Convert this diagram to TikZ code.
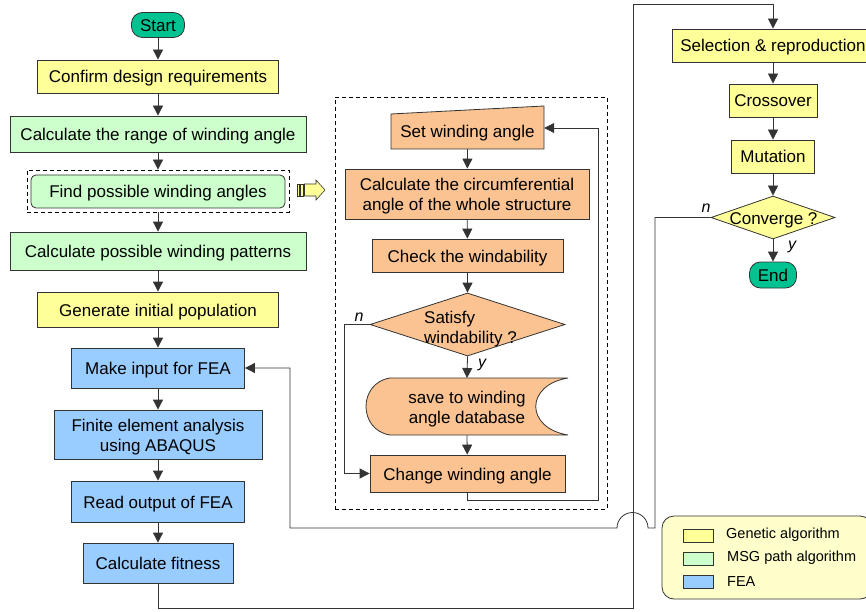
\documentclass[tikz,border=0pt]{standalone}
\usepackage{fontspec}
\setmainfont{Liberation Sans}
\usetikzlibrary{arrows.meta,shapes.geometric}
\definecolor{cy}{HTML}{FFFF99}
\definecolor{cg}{HTML}{CCFFCC}
\definecolor{cb}{HTML}{99CCFF}
\definecolor{co}{RGB}{250,195,145}
\definecolor{ct}{RGB}{0,195,145}
\definecolor{cl}{HTML}{FFFFCC}
\definecolor{cline}{HTML}{333333}
\begin{document}
\begin{tikzpicture}[x=1pt,y=-1pt,
  font=\fontsize{17}{20}\selectfont,
  txt/.style={text height=13pt, text depth=0pt},
  txttwo/.style={text height=33pt, text depth=0pt},
  box/.style={draw=cline, line width=0.8pt, inner sep=0pt, align=center, txt},
  ybox/.style={box, fill=cy},
  gbox/.style={box, fill=cg},
  bbox/.style={box, fill=cb},
  obox/.style={box, fill=co},
  term/.style={box, fill=ct, rounded corners=11pt},
  conn/.style={draw=cline, line width=0.8pt},
  arr/.style={conn, -{Triangle[length=10pt,width=10pt]}},
  lab/.style={font=\fontsize{16}{18}\selectfont\itshape, inner sep=0pt},
  dashbox/.style={draw=black, line width=0.8pt, dash pattern=on 4pt off 3pt},
  legtext/.style={font=\fontsize{14.5}{16}\selectfont, anchor=west, inner sep=0pt}
]
\useasboundingbox (0,0) rectangle (866,612);

% ---------- left column ----------
\node[term, minimum width=53, minimum height=25] (start) at (158,25) {Start};
\node[ybox, minimum width=241, minimum height=33] (confirm) at (158,76.5) {Confirm design requirements};
\node[gbox, minimum width=296, minimum height=36] (range) at (158,134) {Calculate the range of winding angle};
\node[dashbox, minimum width=262, minimum height=42, inner sep=0pt] (findwrap) at (158,191) {};
\node[gbox, rounded corners=5pt, minimum width=254, minimum height=33] (find) at (158,191.5) {Find possible winding angles};
\node[gbox, minimum width=296, minimum height=38] (patterns) at (158,251) {Calculate possible winding patterns};
\node[ybox, minimum width=241, minimum height=35] (init) at (158,309.5) {Generate initial population};
\node[bbox, minimum width=173, minimum height=40] (input) at (158,368) {Make input for FEA};
\node[bbox, txttwo, minimum width=208, minimum height=49] (fem) at (158,434.5) {Finite element analysis\\using ABAQUS};
\node[bbox, minimum width=173, minimum height=41] (read) at (158,501.5) {Read output of FEA};
\node[bbox, minimum width=150, minimum height=40] (fit) at (158,563) {Calculate fitness};

\draw[arr] (start) -- (confirm);
\draw[arr] (confirm) -- (range);
\draw[arr] (range) -- (findwrap.north);
\draw[arr] (findwrap.south) -- (patterns);
\draw[arr] (patterns) -- (init);
\draw[arr] (init) -- (input);
\draw[arr] (input) -- (fem);
\draw[arr] (fem) -- (read);
\draw[arr] (read) -- (fit);

% ---------- striped arrow ----------
\begin{scope}[draw=cline, line width=0.6pt]
  \filldraw[fill=cy] (297,184) rectangle (299,196);
  \filldraw[fill=cy] (300.5,184) rectangle (303,196);
  \filldraw[fill=cy] (304.5,184) -- (316,184) -- (316,180) -- (325,190) -- (316,200) -- (316,196) -- (304.5,196) -- cycle;
\end{scope}

% ---------- inner dashed region ----------
\node[dashbox, minimum width=272, minimum height=412, inner sep=0pt] (detail) at (471,303) {};

\filldraw[fill=co, draw=cline, line width=0.8pt] (391,114) -- (544,106) -- (544,149) -- (391,149) -- cycle;
\node[txt, inner sep=0pt, minimum width=153, minimum height=35] (set) at (467.5,131.5) {Set winding angle};
\node[obox, txttwo, minimum width=244, minimum height=50] (circ) at (467,194) {Calculate the circumferential\\angle of the whole structure};
\node[obox, minimum width=191, minimum height=33] (check) at (467.5,255.5) {Check the windability};
\node[diamond, draw=cline, fill=co, line width=0.8pt, inner sep=0pt, minimum width=195, minimum height=63] (sat) at (467.5,324.5) {};
\node[txttwo, anchor=west, align=left, inner sep=0pt] (sattext) at (424,326.5) {Satisfy\\windability ?};
\filldraw[fill=co, draw=cline, line width=0.8pt]
  (390,378) -- (568,378) .. controls (525,385) and (525,428) .. (568,435)
  -- (390,435) .. controls (358,430) and (358,383) .. (390,378) -- cycle;
\node[txttwo, inner sep=0pt, align=center] (save) at (467,407) {save to winding\\angle database};
\coordinate (saveN) at (467,378);
\coordinate (saveS) at (467,435);
\node[obox, minimum width=195, minimum height=37] (chg) at (467.5,473.5) {Change winding angle};

\coordinate (nl) at (344,324.5);
\coordinate (loopR) at (598,500);
\coordinate (loopT) at (598,128);

\draw[arr] (set.south) -- (circ);
\draw[arr] (circ) -- (check);
\draw[arr] (check) -- (sat.north);
\draw[arr] (sat.south) -- (saveN);
\draw[arr] (saveS) -- (chg);
\draw[arr] (sat.west) -- (nl) |- (chg.west);
\draw[arr] (chg.south) |- (loopR) -- (loopT) -- (set.east |- loopT);
\node[lab] (n1) at (359,317) {n};
\node[lab] (y1) at (482,365) {y};

% ---------- right column ----------
\node[ybox, minimum width=202, minimum height=33] (sel) at (773,45.5) {Selection \& reproduction};
\node[ybox, minimum width=88, minimum height=33] (cross) at (773,100.5) {Crossover};
\node[ybox, minimum width=83, minimum height=33] (mut) at (773,156.5) {Mutation};
\node[diamond, draw=cline, fill=cy, line width=0.8pt, inner sep=0pt, minimum width=124, minimum height=43] (conv) at (773,217.5) {};
\node[txt, inner sep=0pt] (convtext) at (773.5,217.5) {Converge ?};
\node[term, minimum width=47, minimum height=26] (end) at (773,275) {End};

\draw[arr] (sel) -- (cross);
\draw[arr] (cross) -- (mut);
\draw[arr] (mut) -- (conv.north);
\draw[arr] (conv.south) -- (end);
\node[lab] (n2) at (706,208) {n};
\node[lab] (y2) at (792,247) {y};

% ---------- long connectors ----------
\coordinate (bl) at (633,608);
\coordinate (tl) at (633,4);
\draw[arr] (fit.south) |- (bl) -- (tl) -| (sel.north);

\coordinate (cr) at (655,528);
\coordinate (hopR) at (648,528);
\coordinate (fbx) at (290,528);
\draw[arr] (conv.west) -| (cr) -- (hopR) arc[start angle=0, end angle=180, radius=15.5pt] -- (fbx) |- (input.east);

% ---------- legend ----------
\node[draw=cline, fill=cl, line width=0.8pt, rounded corners=12pt, minimum width=210, minimum height=83, inner sep=0pt] (legend) at (767,557.5) {};
\node[box, fill=cy, minimum width=30, minimum height=9] (lg1) at (698,535.5) {};
\node[box, fill=cg, minimum width=30, minimum height=9] (lg2) at (698,558.5) {};
\node[box, fill=cb, minimum width=30, minimum height=9] (lg3) at (698,582) {};
\node[legtext] (lt1) at (726,535) {Genetic algorithm};
\node[legtext] (lt2) at (727,558) {MSG path algorithm};
\node[legtext] (lt3) at (727,582) {FEA};
\end{tikzpicture}
\end{document}
